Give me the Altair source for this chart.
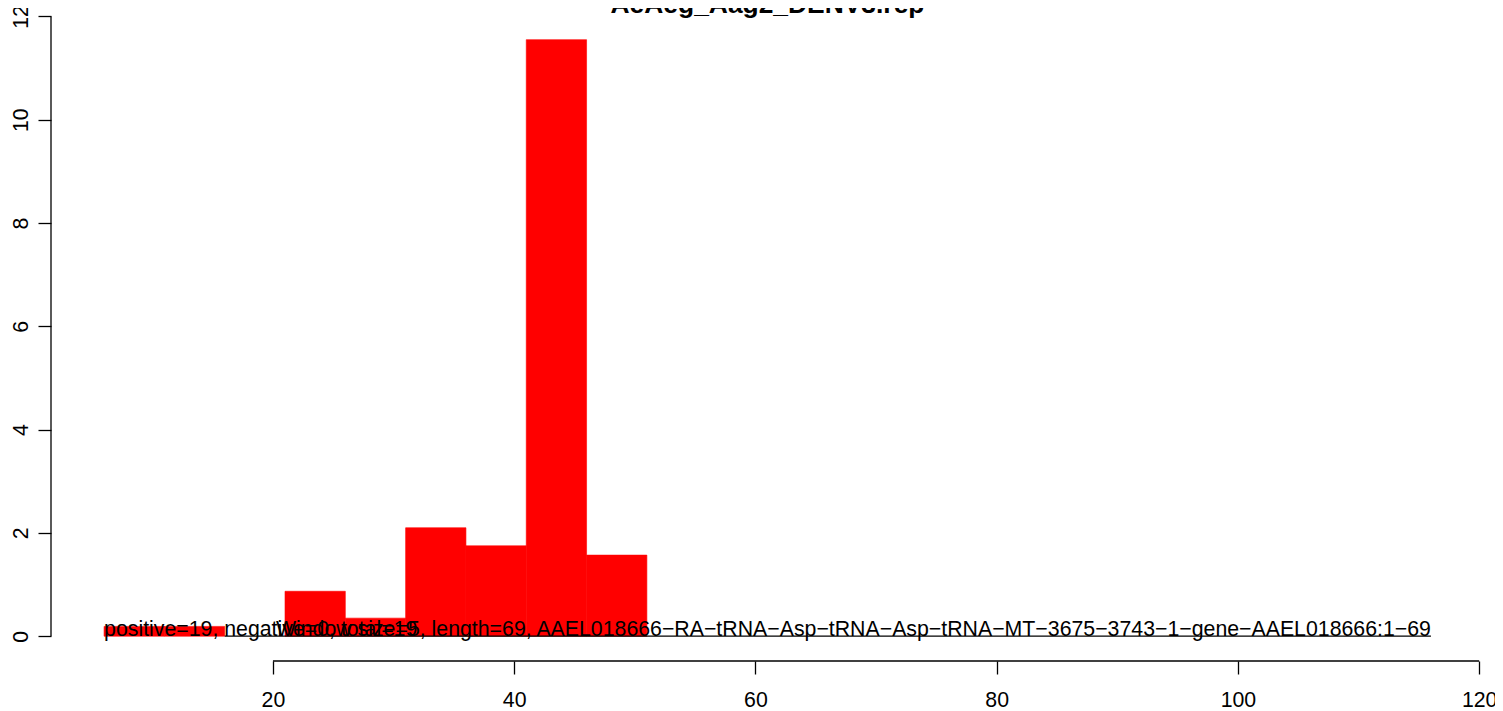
import altair as alt
import pandas as pd

# Histogram bins (start, end) and heights
bin_start = [6, 11, 21, 26, 31, 36, 41, 46]
bin_end = [11, 16, 26, 31, 36, 41, 46, 51]
heights = [0.19, 0.19, 0.87, 0.35, 2.10, 1.75, 11.55, 1.57]

x_ticks = [20, 40, 60, 80, 100, 120]
y_ticks = [0, 2, 4, 6, 8, 10, 12]

title_text = "AeAeg_Aag2_DENV3.rep"
left_note = "positive=19, negative=0, total=19"
right_note = ("Window size=5, length=69, AAEL018666\u2212RA\u2212tRNA\u2212Asp\u2212tRNA\u2212Asp\u2212tRNA"
              "\u2212MT\u22123675\u22123743\u22121\u2212gene\u2212AAEL018666:1\u221269")
xlim = [1.6, 120.4]
ylim = [-0.48, 12.163]
zero_line = [16, 116]
note_x = [6, 116]
title_pos = [61, 12.06]

FONT = "Liberation Sans"
FS = 21.3

bars = pd.DataFrame({"x": bin_start, "x2": bin_end, "y": heights})

xs = alt.Scale(domain=xlim, nice=False, zero=False)
ys = alt.Scale(domain=ylim, nice=False, zero=False)

xaxis = alt.Axis(values=x_ticks, domain=False, grid=False, tickSize=13, tickColor="black",
                 tickWidth=1.3, labelFont=FONT, labelFontSize=FS, labelColor="black",
                 labelBaseline="alphabetic", labelPadding=32, title=None, labelFlush=False)
yaxis = alt.Axis(values=y_ticks, domain=False, grid=False, tickSize=13, tickColor="black",
                 tickWidth=1.3, labelFont=FONT, labelFontSize=FS, labelColor="black",
                 labelAngle=270, labelAlign="center", labelBaseline="alphabetic",
                 labelPadding=11, title=None, labelFlush=False)

bar_layer = alt.Chart(bars).mark_rect(color="#ff0000", stroke="#ff0000", strokeWidth=0.6).encode(
    x=alt.X("x:Q", scale=xs, axis=xaxis),
    x2="x2:Q",
    y=alt.Y("y:Q", scale=ys, axis=yaxis),
    y2=alt.datum(0),
)

zl = pd.DataFrame({"x": [zero_line[0]], "x2": [zero_line[1]], "y": [0]})
zero_layer = alt.Chart(zl).mark_rule(color="black", strokeWidth=1.2).encode(
    x=alt.X("x:Q", scale=xs), x2="x2:Q", y=alt.Y("y:Q", scale=ys))

xax = pd.DataFrame({"x": [x_ticks[0]], "x2": [x_ticks[-1]], "y": [ylim[0]]})
xaxis_line = alt.Chart(xax).mark_rule(color="black", strokeWidth=1.3).encode(
    x=alt.X("x:Q", scale=xs), x2="x2:Q", y=alt.Y("y:Q", scale=ys))

yax = pd.DataFrame({"x": [xlim[0]], "y": [y_ticks[0]], "y2": [y_ticks[-1]]})
yaxis_line = alt.Chart(yax).mark_rule(color="black", strokeWidth=1.3).encode(
    x=alt.X("x:Q", scale=xs), y=alt.Y("y:Q", scale=ys), y2="y2:Q")

notes_l = pd.DataFrame({"x": [note_x[0]], "y": [0], "t": [left_note]})
notes_r = pd.DataFrame({"x": [note_x[1]], "y": [0], "t": [right_note]})
text_l = alt.Chart(notes_l).mark_text(align="left", baseline="alphabetic", font=FONT,
                                      fontSize=FS, color="black").encode(
    x=alt.X("x:Q", scale=xs), y=alt.Y("y:Q", scale=ys), text="t:N")
text_r = alt.Chart(notes_r).mark_text(align="right", baseline="alphabetic", font=FONT,
                                      fontSize=FS, color="black").encode(
    x=alt.X("x:Q", scale=xs), y=alt.Y("y:Q", scale=ys), text="t:N")

tdf = pd.DataFrame({"x": [title_pos[0]], "y": [title_pos[1]], "t": [title_text]})
title_layer = alt.Chart(tdf).mark_text(align="center", baseline="alphabetic", font=FONT,
                                       fontSize=26.4, fontWeight="bold", color="black").encode(
    x=alt.X("x:Q", scale=xs), y=alt.Y("y:Q", scale=ys), text="t:N")

chart = alt.layer(bar_layer, zero_layer, xaxis_line, yaxis_line, text_l, text_r,
                  title_layer).properties(
    width=1433,
    height=653,
    padding={"left": 43, "top": 0, "right": 11, "bottom": 50},
    autosize=alt.AutoSizeParams(type="none"),
    background="white",
).configure_view(stroke=None, strokeWidth=0)

chart.save("out.html", embed_options={"renderer": "svg", "actions": False})
